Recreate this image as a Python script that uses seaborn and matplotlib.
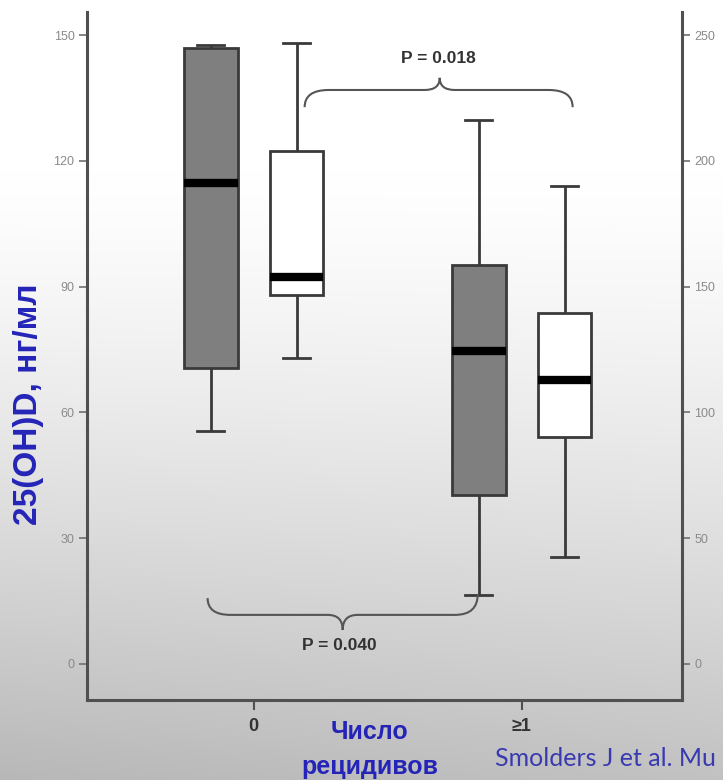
import numpy as np
import pandas as pd
import matplotlib
matplotlib.use("Agg")
import matplotlib.pyplot as plt
import seaborn as sns
from matplotlib.path import Path
from matplotlib.patches import PathPatch

# ---------------- data ----------------
groups = ["0", "≥1"]
series = ["left", "right"]
# five-number summaries: min, Q1, median, Q3, max
gray_0 = [55.6, 70.6, 114.7, 146.9, 147.6]      # left axis units (нг/мл)
gray_1 = [16.5, 40.3, 74.6, 95.2, 129.7]
white_0 = [121.7, 146.7, 153.8, 203.8, 246.7]   # right axis units
white_1 = [42.5, 90.2, 112.8, 139.5, 190.0]
left_ticks = [0, 30, 60, 90, 120, 150]
right_ticks = [0, 50, 100, 150, 200, 250]
p_labels = ["P = 0.018", "P = 0.040"]

df_left = pd.DataFrame({
    "group": ["0"] * 5 + ["≥1"] * 5,
    "value": gray_0 + gray_1,
    "series": "left",
})
df_right = pd.DataFrame({
    "group": ["0"] * 5 + ["≥1"] * 5,
    "value": white_0 + white_1,
    "series": "right",
})

plt.rcParams["font.family"] = ["Liberation Sans", "DejaVu Sans"]

W, H = 723, 780
fig = plt.figure(figsize=(W / 100, H / 100), dpi=100)

# background gradient (screenshot-like)
bg = fig.add_axes([0, 0, 1, 1], zorder=0)
yy = np.linspace(0, 1, 400)[:, None]
xx = np.linspace(0, 1, 300)[None, :]
t = np.clip((yy - 0.22) / 0.78, 0, 1) ** 1.3
v = 1.0 - 0.24 * t - 0.04 * t * (1 - xx)
bg.imshow(np.dstack([v, v, v]), aspect="auto", extent=[0, 1, 1, 0])
bg.set_axis_off()

ax = fig.add_axes([87 / W, 1 - 700 / H, (682 - 87) / W, (700 - 12) / H], zorder=1)
ax.patch.set_alpha(0)
ax2 = ax.twinx()
ax2.patch.set_alpha(0)

pal = {"left": "#7f7f7f", "right": "white"}
common = dict(x="group", y="value", hue="series", hue_order=series, order=groups,
              palette=pal, width=0.64, gap=0.375, whis=np.inf, dodge=True,
              linewidth=2, linecolor="#3a3a3a", legend=False,
              medianprops=dict(color="black", linewidth=6, solid_capstyle="butt"))
sns.boxplot(data=df_left, ax=ax, **common)
sns.boxplot(data=df_right, ax=ax2, **common)

ylo, yhi = -8.6, 155.5
ax.set_ylim(ylo, yhi)
ax2.set_ylim(ylo * 250 / 150, yhi * 250 / 150)
xlo, xhi = -0.622, 1.598
ax.set_xlim(xlo, xhi)
ax2.set_xlim(xlo, xhi)

ax.set_yticks(left_ticks)
ax2.set_yticks(right_ticks)
ax.set_xlabel("")
ax.set_ylabel("")
ax2.set_ylabel("")

for a in (ax, ax2):
    a.spines["top"].set_visible(False)
    for s in ["left", "right", "bottom"]:
        a.spines[s].set_color("#505050")
        a.spines[s].set_linewidth(2.2)
ax.spines["right"].set_visible(False)
ax2.spines["left"].set_visible(False)
ax2.spines["bottom"].set_visible(False)

ax.tick_params(axis="y", length=6, width=1.2, color="#707070", labelsize=9,
               labelcolor="#8a8a8a", pad=3)
ax2.tick_params(axis="y", length=6, width=1.2, color="#707070", labelsize=9,
                labelcolor="#8a8a8a", pad=3)
ax.tick_params(axis="x", length=7, width=1.5, color="#505050", labelsize=13,
               labelcolor="#333333", pad=6)
for lab in ax.get_xticklabels():
    lab.set_fontweight("bold")


def brace(a, x0, x1, ybar, y0, y1, xtip, ytip, rx, rt):
    verts = [(x0, y0), (x0, ybar), (x0 + rx, ybar),
             (xtip - rt, ybar), (xtip, ybar), (xtip, ytip),
             (xtip, ybar), (xtip + rt, ybar),
             (x1 - rx, ybar), (x1, ybar), (x1, y1)]
    codes = [Path.MOVETO, Path.CURVE3, Path.CURVE3,
             Path.LINETO, Path.CURVE3, Path.CURVE3,
             Path.CURVE3, Path.CURVE3,
             Path.LINETO, Path.CURVE3, Path.CURVE3]
    a.add_patch(PathPatch(Path(verts, codes), fill=False, lw=1.5,
                          edgecolor="#555555", zorder=5))


brace(ax, 0.19, 1.19, 136.9, 132.8, 132.8, 0.694, 139.8, 0.09, 0.056)
brace(ax, -0.172, 0.836, 11.7, 15.7, 16.7, 0.332, 8.1, 0.085, 0.056)
ax.text(0.69, 144.3, p_labels[0], ha="center", va="center", fontsize=12.5,
        fontweight="bold", color="#333333", zorder=6)
ax.text(0.32, 4.3, p_labels[1], ha="center", va="center", fontsize=12.5,
        fontweight="bold", color="#333333", zorder=6)

fig.text(29 / W, 1 - 404 / H, "25(OH)D, нг/мл", rotation=90, ha="center",
         va="center", fontsize=24, fontweight="bold", color="#2424b8")
fig.text(370 / W, 1 - 732 / H, "Число", ha="center", va="center",
         fontsize=18, fontweight="bold", color="#2424b8")
fig.text(370 / W, 1 - 767 / H, "рецидивов", ha="center", va="center",
         fontsize=18, fontweight="bold", color="#2424b8")
fig.text(495 / W, 1 - 758 / H, "Smolders J et al. Mu", ha="left",
         va="center", fontsize=18, color="#3a3ab0", family=["Lato", "DejaVu Sans"])

fig.savefig("out.png", dpi=100)
